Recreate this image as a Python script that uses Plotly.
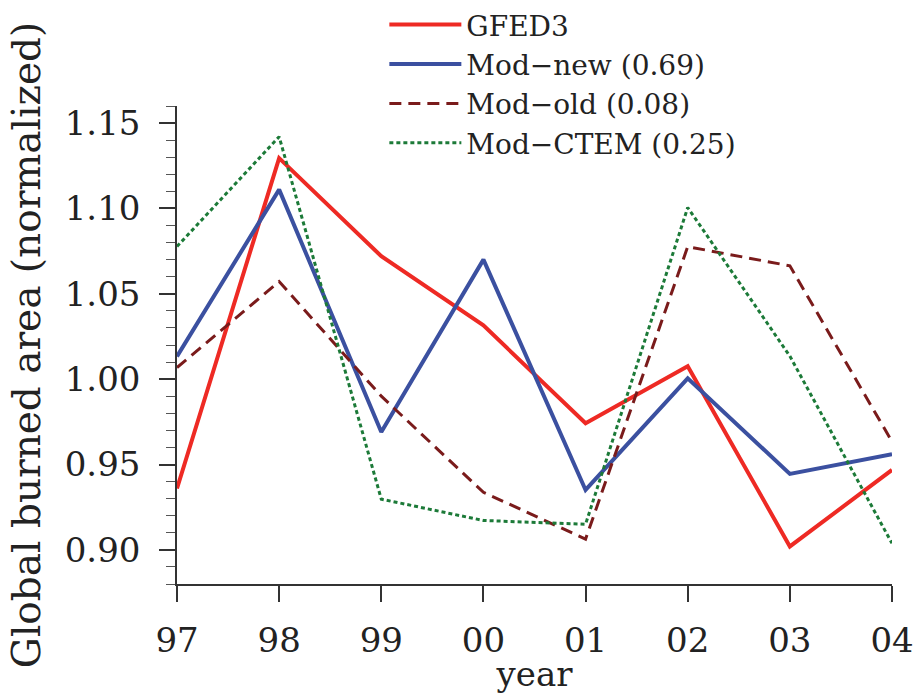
import plotly.graph_objects as go

years = ["97", "98", "99", "00", "01", "02", "03", "04"]
gfed3 = [0.936, 1.1295, 1.0720, 1.0315, 0.9742, 1.0076, 0.9020, 0.9468]
mod_new = [1.0133, 1.1110, 0.9690, 1.0700, 0.9351, 1.0005, 0.9445, 0.9560]
mod_old = [1.0068, 1.0572, 0.9900, 0.9337, 0.9063, 1.0776, 1.0664, 0.9634]
mod_ctem = [1.0777, 1.1420, 0.9297, 0.9172, 0.9150, 1.1005, 1.0135, 0.9038]

names = ["GFED3", "Mod\u2212new (0.69)", "Mod\u2212old (0.08)", "Mod\u2212CTEM (0.25)"]
series = [gfed3, mod_new, mod_old, mod_ctem]
colors = ["#EE2A24", "#3B50A0", "#7A1B1B", "#1C7A38"]
widths = [4, 4, 3, 3]
dashes = ["solid", "solid", "12px,7px", "4px,3px"]

FONT = "DejaVu Serif"
xs = list(range(len(years)))

fig = go.Figure()
for name, ys, c, w, d in zip(names, series, colors, widths, dashes):
    fig.add_trace(go.Scatter(x=xs, y=ys, mode="lines", name=name,
                             line=dict(color=c, width=w, dash=d)))

fig.update_layout(
    width=917, height=694,
    margin=dict(l=177, r=25, t=106, b=110, autoexpand=False),
    paper_bgcolor="white", plot_bgcolor="white",
    font=dict(family=FONT, color="#222222"),
    showlegend=True,
    legend=dict(x=0.29, y=1.222, xanchor="left", yanchor="top",
                font=dict(family=FONT, size=28, color="#222222"),
                bgcolor="rgba(0,0,0,0)", itemwidth=72, tracegroupgap=0),
)
fig.update_xaxes(
    range=[0, 7], tickmode="array", tickvals=xs, ticktext=years, automargin=False,
    showgrid=False, zeroline=False, showline=True, linecolor="#333333", linewidth=1.5,
    ticks="outside", ticklen=16, tickwidth=1.5, tickcolor="#333333",
    tickfont=dict(family=FONT, size=34, color="#222222"), ticklabelstandoff=9,
    title=dict(text="year", font=dict(family=FONT, size=34, color="#222222"), standoff=6),
)
fig.update_yaxes(
    range=[0.88, 1.16], tickmode="array", tickvals=[0.90, 0.95, 1.00, 1.05, 1.10, 1.15],
    ticktext=["0.90", "0.95", "1.00", "1.05", "1.10", "1.15"], automargin=False,
    showgrid=False, zeroline=False, showline=True, linecolor="#333333", linewidth=1.5,
    ticks="outside", ticklen=16, tickwidth=1.5, tickcolor="#333333",
    minor=dict(dtick=0.01, tick0=0.88, ticks="outside", ticklen=9, tickwidth=1.2, tickcolor="#555555", showgrid=False),
    tickfont=dict(family=FONT, size=34, color="#222222"), ticklabelstandoff=12,
    title=dict(text="Global burned area (normalized)", font=dict(family=FONT, size=39, color="#222222"), standoff=12),
)
fig.write_html("out.html")
